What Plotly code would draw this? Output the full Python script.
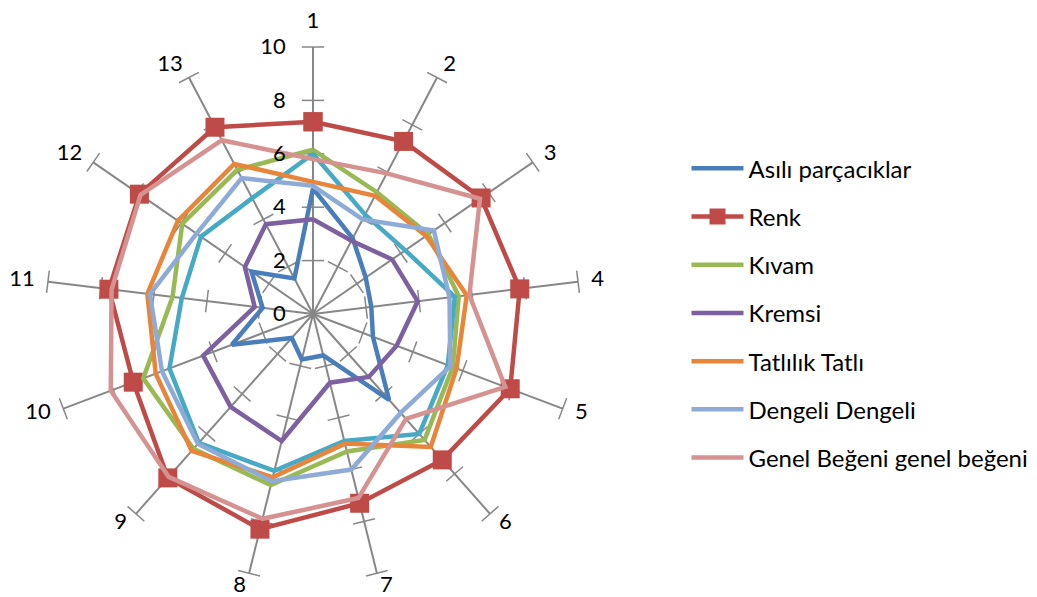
import plotly.graph_objects as go

# Axis categories (13 sensory sessions / panelists)
categories = [str(i) for i in range(1, 14)]

# Scores per attribute, one value per axis
asili_parcaciklar = [4.7, 3.2, 2.4, 2.2, 2.4, 4.3, 1.6, 1.75, 1.2, 3.25, 1.9, 2.8, 1.5]
renk = [7.2, 7.3, 7.65, 7.8, 7.9, 7.3, 7.3, 8.3, 8.2, 7.2, 7.7, 7.9, 7.9]
kivam = [6.15, 5.15, 5.25, 5.5, 5.6, 6.3, 5.3, 6.6, 6.75, 6.8, 5.3, 5.95, 6.1]
kremsi = [3.55, 3.1, 3.6, 3.95, 3.35, 3.15, 2.65, 4.9, 4.65, 4.4, 2.2, 3.1, 3.8]
seri5 = [6.0, 4.2, 4.2, 5.35, 5.4, 6.0, 4.9, 6.05, 6.45, 5.75, 4.95, 5.1, 4.9]
tatlilik = [4.95, 5.0, 5.15, 5.8, 5.75, 6.65, 5.0, 6.3, 6.85, 6.3, 6.25, 6.15, 6.35]
dengeli = [4.8, 4.0, 5.5, 5.15, 5.5, 4.95, 6.0, 6.45, 6.5, 6.05, 6.15, 5.3, 5.75]
genel_begeni = [5.8, 5.95, 7.6, 5.9, 7.7, 5.25, 7.1, 7.9, 8.15, 8.1, 7.6, 7.85, 7.35]

radial_ticks = [0, 2, 4, 6, 8, 10]

series = [
    ("Asılı parçacıklar", asili_parcaciklar, "#4A7EBB", True, False),
    ("Renk", renk, "#BE4B48", True, True),
    ("Kıvam", kivam, "#98B954", True, False),
    ("Kremsi", kremsi, "#7D60A0", True, False),
    ("Seri 5", seri5, "#46AAC5", False, False),
    ("Tatlılık Tatlı", tatlilik, "#E8853A", True, False),
    ("Dengeli Dengeli", dengeli, "#8EABD8", True, False),
    ("Genel Beğeni genel beğeni", genel_begeni, "#D59291", True, False),
]

FONT = "Lato"
GRID = "#878787"
W, H = 1037, 597
R_MAX = radial_ticks[-1]
LABEL_RANGE = 10.6   # outer polar used only for the category labels
LABEL_R = 10.5

# Chart geometry in pixels: centre of the web and spoke length for R_MAX
CX, CY, RAD = 313, 314, 267
RAD_OUT = RAD * LABEL_RANGE / R_MAX

fig = go.Figure()

# Tick crossbars on every spoke at 2, 4, 6, 8, 10
n = len(categories)
tick_r, tick_t, tick_a = [], [], []
for v in radial_ticks[1:]:
    for k, c in enumerate(categories):
        tick_r.append(v)
        tick_t.append(c)
        tick_a.append(k * 360.0 / n)
fig.add_trace(go.Scatterpolar(
    r=tick_r, theta=tick_t, mode="markers", showlegend=False, hoverinfo="skip",
    marker=dict(symbol="line-ew", size=16, angle=tick_a,
                line=dict(color=GRID, width=1.5), color=GRID),
))

for name, vals, color, in_legend, with_markers in series:
    fig.add_trace(go.Scatterpolar(
        r=vals + vals[:1],
        theta=categories + categories[:1],
        name=name,
        legendgroup=name,
        showlegend=in_legend,
        mode="lines+markers" if with_markers else "lines",
        line=dict(color=color, width=4.5),
        marker=dict(symbol="square", size=19, color=color) if with_markers else None,
    ))

# Category labels around the outside of the spokes (on a concentric, wider polar)
label_pos = []
for k in range(n):
    if k == 0:
        label_pos.append("top center")
    elif k <= n // 2:
        label_pos.append("middle right")
    else:
        label_pos.append("middle left")
fig.add_trace(go.Scatterpolar(
    r=[LABEL_R] * n, theta=categories, text=categories, mode="text",
    textposition=label_pos, showlegend=False, hoverinfo="skip",
    textfont=dict(family=FONT, size=22, color="black"),
    subplot="polar2",
))

fig.update_layout(
    width=W, height=H,
    margin=dict(l=0, r=0, t=0, b=0),
    paper_bgcolor="white",
    font=dict(family=FONT, size=22, color="black"),
    polar=dict(
        domain=dict(x=[(CX - RAD) / W, (CX + RAD) / W],
                    y=[(H - CY - RAD) / H, (H - CY + RAD) / H]),
        bgcolor="white",
        angularaxis=dict(
            rotation=90, direction="clockwise",
            showline=False, showgrid=True, gridcolor=GRID, gridwidth=1.5,
            ticks="", showticklabels=False,
        ),
        radialaxis=dict(
            range=[0, R_MAX], tickvals=radial_ticks, angle=90, tickangle=90,
            side="counterclockwise",
            showgrid=False, showline=False,
            ticks="outside", ticklen=19, tickcolor="rgba(0,0,0,0)",
            tickfont=dict(family=FONT, size=22, color="black"),
        ),
    ),
    polar2=dict(
        domain=dict(x=[(CX - RAD_OUT) / W, (CX + RAD_OUT) / W],
                    y=[max(0, (H - CY - RAD_OUT) / H), (H - CY + RAD_OUT) / H]),
        bgcolor="rgba(0,0,0,0)",
        angularaxis=dict(rotation=90, direction="clockwise", showline=False,
                         showgrid=False, ticks="", showticklabels=False),
        radialaxis=dict(range=[0, LABEL_RANGE], showline=False, showgrid=False,
                        ticks="", showticklabels=False),
    ),
    legend=dict(
        x=0.662, y=0.755, xanchor="left", yanchor="top",
        font=dict(family=FONT, size=24, color="black"),
        tracegroupgap=14, itemwidth=52, bgcolor="rgba(0,0,0,0)",
    ),
)

fig.write_html("out.html")
